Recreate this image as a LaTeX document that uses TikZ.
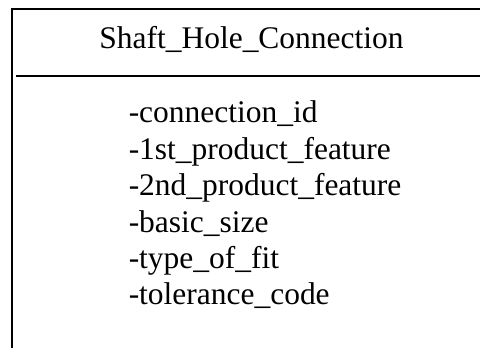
\documentclass[tikz,border=0pt]{standalone}
\usepackage{fontspec}
\setmainfont{Liberation Serif}
\usepackage{tikz}
\usetikzlibrary{positioning}

\begin{document}
\begin{tikzpicture}[x=0.75pt,y=0.75pt]
  \tikzstyle{edge}=[line width=1.45pt,black]
  \tikzstyle{txt}=[inner sep=0pt,anchor=base west,font=\fontsize{23.6pt}{27pt}\selectfont]

  \useasboundingbox (0,0) rectangle (480,348);

  % class box, right side cut off
  \coordinate (tl) at (12,339);
  \coordinate (tr) at (480,339);
  \coordinate (bl) at (12,0);
  \coordinate (dl) at (16,272);
  \coordinate (dr) at (480,272);

  \draw[edge] (bl) -- (tl) -- (tr);
  \draw[edge] (dl) -- (dr);

  \node[txt,anchor=base] (title) at (251.5,299) {Shaft\_Hole\_Connection};

  \node[txt] (a1) at (128.5,225) {-connection\_id};
  \node[txt] (a2) at (128.5,188.6) {-1st\_product\_feature};
  \node[txt] (a3) at (128.5,152.2) {-2nd\_product\_feature};
  \node[txt] (a4) at (128.5,115.8) {-basic\_size};
  \node[txt] (a5) at (128.5,79.4) {-type\_of\_fit};
  \node[txt] (a6) at (128.5,43) {-tolerance\_code};
\end{tikzpicture}
\end{document}
